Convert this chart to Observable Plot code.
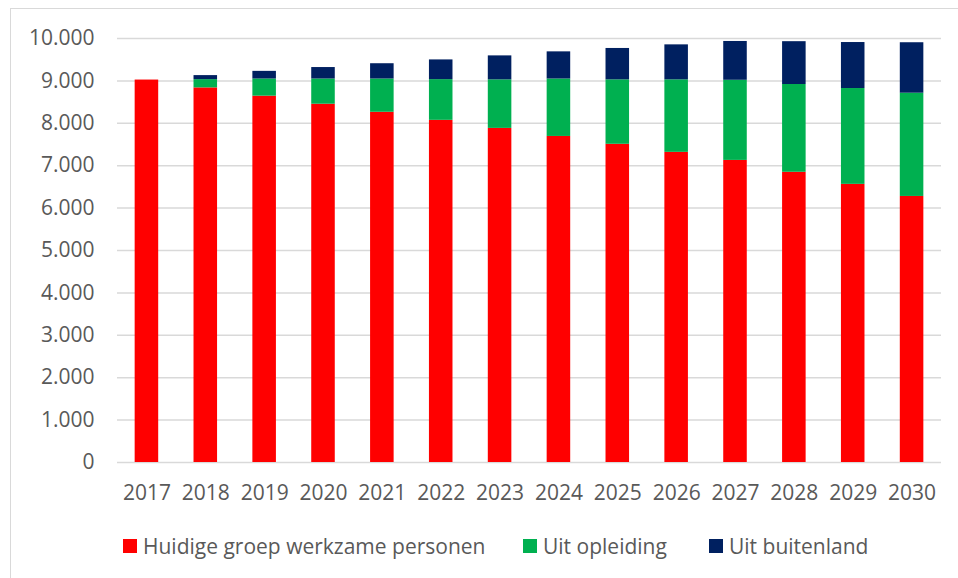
<!DOCTYPE html>
<html>
<head>
<meta charset="utf-8">
<script src="https://cdn.jsdelivr.net/npm/d3@7"></script>
<script src="https://cdn.jsdelivr.net/npm/@observablehq/plot@0.6"></script>
<style>
  html, body { margin: 0; padding: 0; background: #fff; }
  #wrap { position: relative; width: 958px; height: 578px; overflow: hidden; font-family: "Open Sans", sans-serif; }
  #frame { position: absolute; left: 10px; top: 8px; width: 960px; height: 580px; border: 1.5px solid #d9d9d9; box-sizing: border-box; }
  #chart { position: absolute; left: 0; top: 0; }
  #legend { position: absolute; top: 532px; left: 0; width: 958px; height: 28px; }
  .item { position: absolute; top: 0; height: 28px; display: flex; align-items: center; font-size: 21px; color: #595959; white-space: nowrap; }
  .sw { width: 14px; height: 14px; margin-right: 6px; }
</style>
</head>
<body>
<div id="wrap">
  <div id="frame"></div>
  <div id="chart"></div>
  <div id="legend"></div>
</div>
<script>
const years = ["2017","2018","2019","2020","2021","2022","2023","2024","2025","2026","2027","2028","2029","2030"];
const seriesNames = ["Huidige groep werkzame personen", "Uit opleiding", "Uit buitenland"];
const huidige = [9020, 8835, 8640, 8450, 8260, 8070, 7880, 7690, 7505, 7315, 7125, 6845, 6560, 6275];
const opleiding = [0, 195, 405, 595, 785, 960, 1145, 1355, 1520, 1710, 1890, 2070, 2260, 2435];
const buitenland = [0, 95, 180, 270, 360, 465, 565, 640, 740, 825, 915, 1010, 1085, 1190];
const yTicks = [0, 1000, 2000, 3000, 4000, 5000, 6000, 7000, 8000, 9000, 10000];
const colors = ["#ff0000", "#00b050", "#002060"];

const seriesValues = [huidige, opleiding, buitenland];
const data = [];
seriesNames.forEach((s, si) => years.forEach((y, i) => data.push({year: y, series: s, value: seriesValues[si][i]})));

const nl = d3.formatLocale({decimal: ",", thousands: ".", grouping: [3], currency: ["€", ""]});
const fmt = nl.format(",");

const chart = Plot.plot({
  width: 958,
  height: 520,
  marginLeft: 117,
  marginRight: 17,
  marginTop: 38,
  marginBottom: 58,
  style: {fontFamily: "'Open Sans', sans-serif", fontSize: "21px", color: "#595959", background: "transparent"},
  x: {domain: years, paddingInner: 0.6, paddingOuter: 0.3, round: false, label: null},
  y: {domain: [0, 10000], label: null},
  color: {domain: seriesNames, range: colors},
  marks: [
    Plot.gridY(yTicks, {stroke: "#d9d9d9", strokeOpacity: 1, strokeWidth: 1.5}),
    Plot.barY(data, {x: "year", y: "value", fill: "series", order: seriesNames}),
    Plot.axisY(yTicks, {tickSize: 0, tickPadding: 23, tickFormat: fmt, label: null, fill: "#595959", fontSize: 21}),
    Plot.axisX({tickSize: 0, tickPadding: 23, label: null, fill: "#595959", fontSize: 21})
  ]
});
document.getElementById("chart").appendChild(chart);

const legendPos = [123, 523, 709];
const legend = document.getElementById("legend");
seriesNames.forEach((s, i) => {
  const it = document.createElement("div");
  it.className = "item";
  it.style.left = legendPos[i] + "px";
  const sw = document.createElement("div");
  sw.className = "sw";
  sw.style.background = colors[i];
  const t = document.createElement("span");
  t.textContent = s;
  it.appendChild(sw); it.appendChild(t);
  legend.appendChild(it);
});
</script>
</body>
</html>
